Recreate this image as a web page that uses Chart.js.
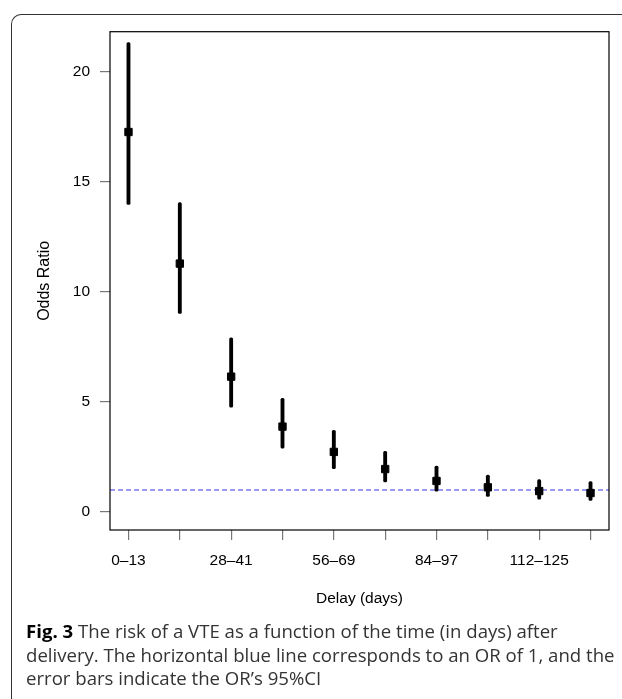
<!DOCTYPE html>
<html>
<head>
<meta charset="utf-8">
<script src="https://cdn.jsdelivr.net/npm/chart.js@4"></script>
<style>
  html, body { margin: 0; padding: 0; background: #fff; overflow: hidden; }
  body { width: 622px; height: 699px; position: relative; }
  #frame {
    position: absolute; left: 11px; top: 14px; width: 700px; height: 700px;
    border-left: 1.6px solid #333; border-top: 1.6px solid #333;
    border-top-left-radius: 10px;
  }
  #wrap { position: absolute; left: 0; top: 0; width: 622px; height: 620px; }
  #caption {
    position: absolute; left: 26px; top: 619px;
    font-family: "Open Sans", sans-serif; font-size: 18.6px; line-height: 23.5px;
    color: #333; white-space: nowrap;
  }
  #caption b { color: #000; font-weight: 700; }
</style>
</head>
<body>
<div id="frame"></div>
<div id="wrap"><canvas id="grafico" width="622" height="620"></canvas></div>
<div id="caption"><b>Fig. 3</b> The risk of a VTE as a function of the time (in days) after<br>delivery. The horizontal blue line corresponds to an OR of 1, and the<br>error bars indicate the OR’s 95%CI</div>
<script>
const categorias = ['0–13', '14–27', '28–41', '42–55', '56–69', '70–83', '84–97', '98–111', '112–125', '126–139'];
const oddsRatio = [17.27, 11.29, 6.15, 3.88, 2.73, 1.95, 1.41, 1.12, 0.95, 0.86];
const icInferior = [13.98, 9.02, 4.76, 2.90, 1.97, 1.36, 0.94, 0.71, 0.58, 0.53];
const icSuperior = [21.33, 14.06, 7.92, 5.17, 3.71, 2.76, 2.08, 1.68, 1.47, 1.38];
const linhaRef = 1;
const ticksY = [0, 5, 10, 15, 20];

const fonte = { family: '"Liberation Sans", Arial, Helvetica, sans-serif', size: 15.5 };

// caixa completa em volta da área do gráfico (como box() no R)
const caixa = {
  id: 'caixa',
  afterDraw(chart) {
    const { ctx, chartArea: a } = chart;
    ctx.save();
    ctx.strokeStyle = '#000';
    ctx.lineWidth = 1.2;
    ctx.strokeRect(a.left, a.top, a.right - a.left, a.bottom - a.top);
    ctx.restore();
  }
};

// linha horizontal tracejada em OR = 1
const linhaOR = {
  id: 'linhaOR',
  beforeDatasetsDraw(chart) {
    const { ctx, chartArea: a, scales } = chart;
    const y = scales.y.getPixelForValue(linhaRef);
    ctx.save();
    ctx.strokeStyle = '#7878f8';
    ctx.lineWidth = 1.6;
    ctx.setLineDash([5, 3]);
    ctx.beginPath();
    ctx.moveTo(a.left, y);
    ctx.lineTo(a.right, y);
    ctx.stroke();
    ctx.restore();
  }
};

const ctx = document.getElementById('grafico').getContext('2d');
new Chart(ctx, {
  type: 'bar',
  data: {
    datasets: [{
      type: 'scatter',
      order: 0,
      data: oddsRatio.map((v, i) => ({ x: i + 1, y: v })),
      pointStyle: 'rect',
      pointRadius: 5.2,
      pointBorderWidth: 1,
      backgroundColor: '#000',
      borderColor: '#000'
    }, {
      type: 'bar',
      order: 1,
      data: icInferior.map((v, i) => ({ x: i + 1, y: [v, icSuperior[i]] })),
      backgroundColor: '#000',
      barThickness: 3.2,
      borderWidth: 0,
      borderRadius: 1.5,
      borderSkipped: false
    }]
  },
  options: {
    responsive: false,
    animation: false,
    layout: { padding: { left: 0, top: 31.7, right: 13, bottom: 0 } },
    plugins: { legend: { display: false }, tooltip: { enabled: false } },
    scales: {
      x: {
        type: 'linear',
        offset: false,
        min: 0.64,
        max: 10.36,
        afterFit: s => { s.height = 90; },
        ticks: {
          stepSize: 1,
          includeBounds: false,
          autoSkip: false,
          maxRotation: 0,
          padding: 11,
          color: '#000',
          font: fonte,
          callback: v => ((v - 1) % 2 === 0 ? categorias[v - 1] : '')
        },
        grid: { offset: false, drawOnChartArea: false, drawTicks: true, tickLength: 10, color: '#777', lineWidth: 1.2 },
        border: { display: false },
        title: { display: true, text: 'Delay (days)', color: '#000', font: fonte, padding: { top: 0, bottom: 12 } }
      },
      y: {
        min: -0.82,
        max: 21.83,
        afterFit: s => { s.width = 110; },
        afterBuildTicks: s => { s.ticks = ticksY.map(v => ({ value: v })); },
        ticks: { padding: 10, color: '#000', font: fonte },
        grid: { drawOnChartArea: false, drawTicks: true, tickLength: 10, color: '#777', lineWidth: 1.2 },
        border: { display: false },
        title: { display: true, text: 'Odds Ratio', color: '#000', font: { ...fonte, size: 16 }, padding: { top: 35.4, bottom: 0 } }
      }
    }
  },
  plugins: [caixa, linhaOR]
});
</script>
</body>
</html>
